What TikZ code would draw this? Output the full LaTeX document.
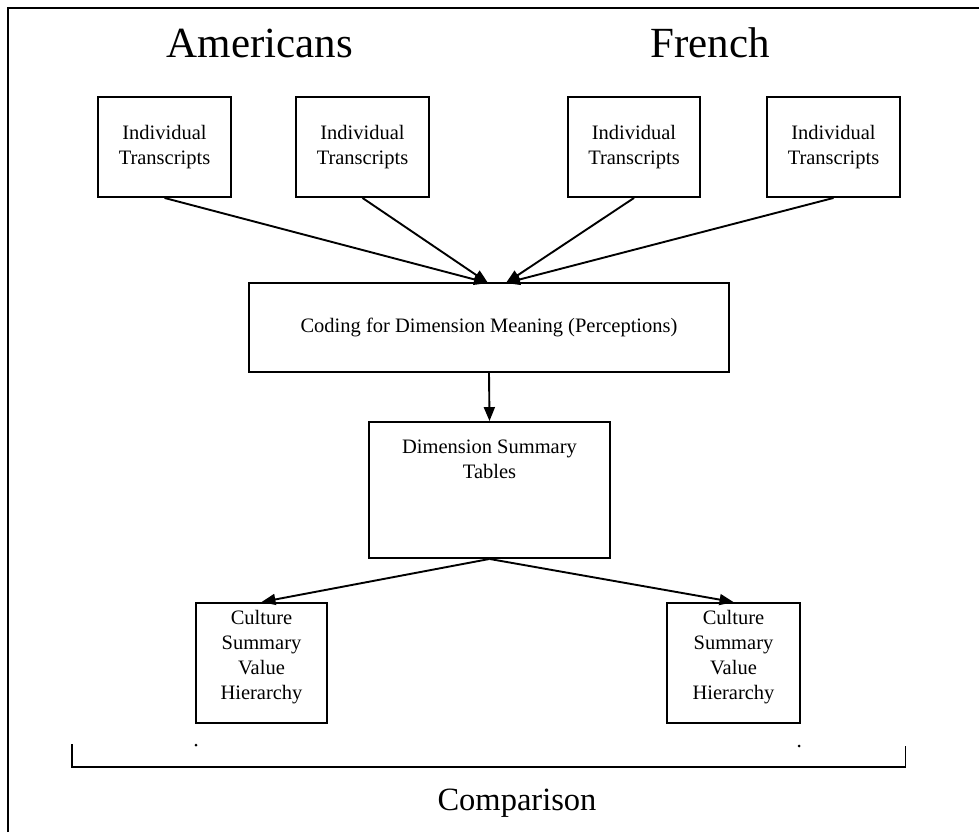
\documentclass[tikz,border=0pt]{standalone}
\usepackage{fontspec}
\setmainfont{Liberation Serif}
\usetikzlibrary{arrows.meta}
\tikzset{
  frame/.style={line width=1.9pt},
  boxtext/.style={align=center, font=\fontsize{20.5}{25}\selectfont},
  box/.style={draw, line width=1.9pt, rectangle, inner sep=0pt, boxtext},
  title/.style={font=\fontsize{43}{50}\selectfont, anchor=base},
  flow/.style={line width=1.9pt, -{Triangle[length=14pt,width=11pt]}},
  bracket/.style={line width=1.9pt},
  speck/.style={circle, fill, inner sep=0pt, minimum size=3pt}
}
\begin{document}
\begin{tikzpicture}[x=1pt, y=-1pt]
\useasboundingbox (0,0) rectangle (979,832);

% outer frame (open at right and bottom)
\draw[frame] (8,832) -- (8,8) -- (979,8);

% group headings
\node[title] (am) at (260,58) {Americans};
\node[title] (fr) at (710,58) {French};

% transcript boxes
\node[box, minimum width=133pt, minimum height=100pt] (t1) at (164.5,147) {Individual\\Transcripts};
\node[box, minimum width=133pt, minimum height=100pt] (t2) at (362.5,147) {Individual\\Transcripts};
\node[box, minimum width=132pt, minimum height=100pt] (t3) at (634,147) {Individual\\Transcripts};
\node[box, minimum width=133pt, minimum height=100pt] (t4) at (833.5,147) {Individual\\Transcripts};

% coding step
\node[box, minimum width=480pt, minimum height=89pt] (code) at (489,327.5) {Coding for Dimension Meaning (Perceptions)};
\coordinate (inL) at (488,283);
\coordinate (inR) at (506,283);

% dimension summary
\node[box, minimum width=241pt, minimum height=136pt] (dim) at (489.5,490) {};
\node[boxtext] (dimtxt) at (489.5,459) {Dimension Summary\\Tables};

% culture summaries
\node[box, minimum width=131pt, minimum height=120pt] (cL) at (261.5,663) {};
\node[boxtext] (cLtxt) at (261.5,657) {Culture\\Summary\\Value\\Hierarchy};
\node[box, minimum width=133pt, minimum height=120pt] (cR) at (733.5,663) {};
\node[boxtext] (cRtxt) at (733.5,657) {Culture\\Summary\\Value\\Hierarchy};

% connectors
\draw[flow] (t1.south) -- (inL);
\draw[flow] (t2.south) -- (inL);
\draw[flow] (t3.south) -- (inR);
\draw[flow] (t4.south) -- (inR);
\draw[flow] (code.south) -- (dim.north);
\draw[flow] (dim.south) -- (cL.north);
\draw[flow] (dim.south) -- (cR.north);

% comparison bracket
\coordinate (bL) at (72,744);
\coordinate (bR) at (905.5,746);
\draw[bracket] (bL) -- (72,767) -- (905.5,767) -- (bR);
\node[speck] (d1) at (196,745) {};
\node[speck] (d2) at (799,746) {};
\node[font=\fontsize{32.5}{38}\selectfont, anchor=base] (cmp) at (517,810) {Comparison};
\end{tikzpicture}
\end{document}
